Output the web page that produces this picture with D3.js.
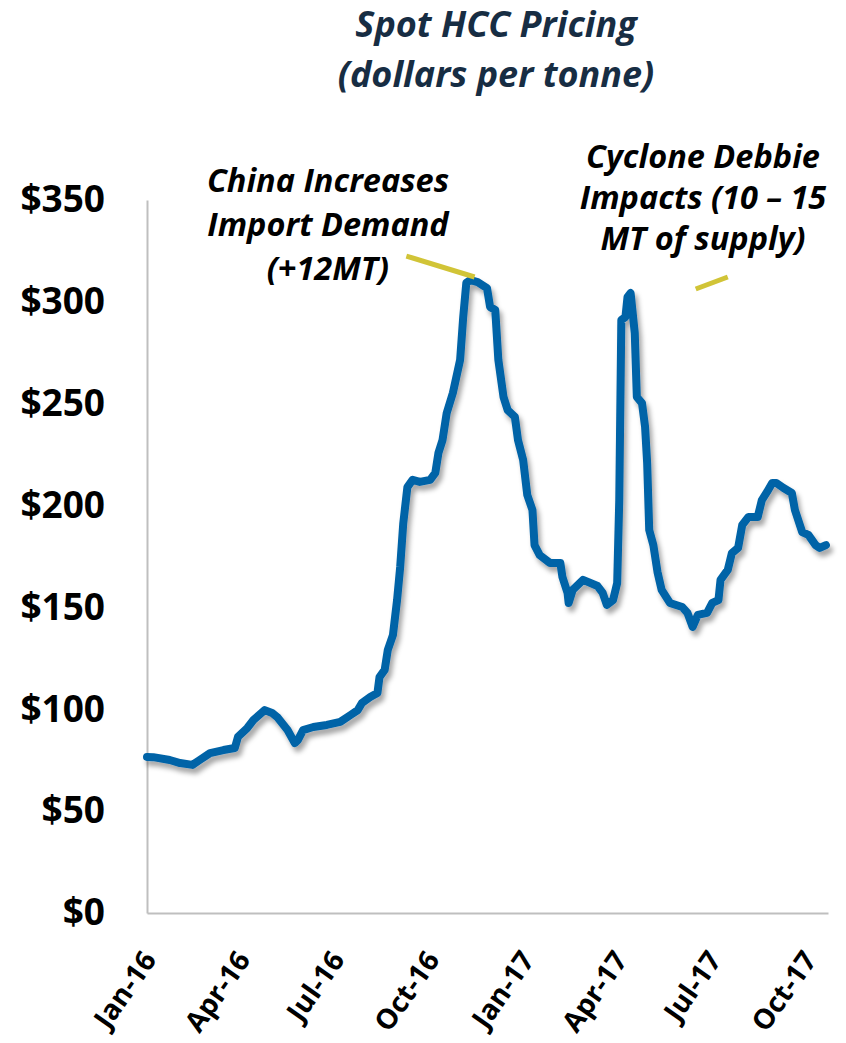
<!DOCTYPE html>
<html>
<head>
<meta charset="utf-8">
<script src="https://cdn.jsdelivr.net/npm/d3@7"></script>
<style>
  html, body { margin: 0; padding: 0; background: #ffffff; }
  svg { display: block; }
  text { font-family: "Open Sans", "Noto Sans", sans-serif; }
</style>
</head>
<body>
<script>
// Spot hard coking coal price, US$ per tonne
const priceDates = [
  "2016-01-01","2016-01-07","2016-01-23","2016-02-02","2016-02-14","2016-02-21","2016-03-02","2016-03-15",
  "2016-03-26","2016-03-29","2016-04-07","2016-04-13","2016-04-24","2016-05-01","2016-05-06","2016-05-16",
  "2016-05-23","2016-05-26","2016-05-31","2016-06-10","2016-06-23","2016-07-06","2016-07-16","2016-07-23",
  "2016-07-27","2016-08-04","2016-08-11","2016-08-13","2016-08-18","2016-08-21","2016-08-26","2016-08-30",
  "2016-09-02","2016-09-05","2016-09-09","2016-09-14","2016-09-21","2016-10-01","2016-10-06","2016-10-09",
  "2016-10-13","2016-10-17","2016-10-23","2016-10-30","2016-11-02","2016-11-05","2016-11-09","2016-11-16",
  "2016-11-25","2016-11-28","2016-12-03","2016-12-06","2016-12-11","2016-12-15","2016-12-22","2016-12-25",
  "2016-12-30","2017-01-03","2017-01-08","2017-01-10","2017-01-15","2017-01-25","2017-02-04","2017-02-06",
  "2017-02-11","2017-02-12","2017-02-16","2017-02-26","2017-03-12","2017-03-17","2017-03-21","2017-03-27",
  "2017-03-31","2017-04-02","2017-04-04","2017-04-08","2017-04-10","2017-04-13","2017-04-17","2017-04-19",
  "2017-04-24","2017-04-27","2017-04-29","2017-05-01","2017-05-05","2017-05-09","2017-05-13","2017-05-21",
  "2017-06-02","2017-06-07","2017-06-12","2017-06-17","2017-06-26","2017-07-01","2017-07-07","2017-07-09",
  "2017-07-16","2017-07-20","2017-07-26","2017-07-30","2017-08-05","2017-08-14","2017-08-18","2017-08-23",
  "2017-08-28","2017-09-01","2017-09-08","2017-09-16","2017-09-19","2017-09-26","2017-10-02","2017-10-09",
  "2017-10-13","2017-10-19"
];
const prices = [
  76.6, 76.5, 75.1, 73.6, 72.7, 75.1, 78.5, 80.0,
  81.0, 86.4, 90.8, 94.7, 99.6, 98.2, 96.2, 89.8,
  83.4, 84.9, 89.8, 91.3, 92.3, 93.8, 97.2, 99.6,
  103.1, 106.0, 108.0, 115.8, 119.3, 129.1, 136.5, 153.6,
  169.8, 191.4, 209.1, 212.6, 211.6, 212.6, 216.0, 225.8,
  232.2, 245.4, 255.3, 271.5, 292.6, 309.3, 310.7, 309.7,
  306.8, 297.5, 296.0, 271.5, 253.3, 246.9, 243.5, 232.2,
  222.4, 205.2, 197.8, 180.6, 175.7, 171.8, 171.8, 164.9,
  157.1, 152.2, 158.6, 163.5, 160.5, 157.1, 151.2, 153.6,
  162.0, 202.7, 291.1, 292.6, 302.4, 304.3, 284.7, 253.3,
  250.3, 238.6, 220.9, 188.0, 180.6, 167.4, 158.6, 152.2,
  150.2, 147.3, 140.4, 146.3, 147.3, 152.2, 153.6, 163.5,
  168.4, 176.7, 179.2, 190.5, 194.4, 194.4, 202.7, 206.7,
  211.1, 211.1, 208.6, 206.2, 197.8, 187.0, 185.6, 180.6,
  179.2, 180.6
];

// Axis ticks
const xTickDates = ["2016-01-01","2016-04-01","2016-07-01","2016-10-01","2017-01-01","2017-04-01","2017-07-01","2017-10-01"];
const xTickLabels = ["Jan-16","Apr-16","Jul-16","Oct-16","Jan-17","Apr-17","Jul-17","Oct-17"];
const yTickValues = [0, 50, 100, 150, 200, 250, 300, 350];

// Titles and callouts
const titleLines = ["Spot HCC Pricing", "(dollars per tonne)"];
const calloutChina = ["China Increases", "Import Demand", "(+12MT)"];
const calloutCyclone = ["Cyclone Debbie", "Impacts (10 \u2013 15", "MT of supply)"];
// leader lines: [start date, start value, end date, end value]
const leaderChina = ["2016-09-08", 322.5, "2016-11-13", 312.2];
const leaderCyclone = ["2017-06-15", 306.3, "2017-07-16", 312.2];

const W = 846, H = 1043;
const parse = d3.timeParse("%Y-%m-%d");
const series = priceDates.map((d, i) => ({ date: parse(d), value: prices[i] }));

const svg = d3.select("body").append("svg")
  .attr("width", W).attr("height", H)
  .attr("viewBox", `0 0 ${W} ${H}`);

const defs = svg.append("defs");
const shadow = defs.append("filter").attr("id", "lineShadow")
  .attr("x", "-10%").attr("y", "-10%").attr("width", "130%").attr("height", "130%");
shadow.append("feDropShadow")
  .attr("dx", 3).attr("dy", 5).attr("stdDeviation", 2.5)
  .attr("flood-color", "#000").attr("flood-opacity", 0.35);

const x = d3.scaleTime()
  .domain([parse("2016-01-01"), parse("2017-10-21")])
  .range([147, 828]);
const y = d3.scaleLinear().domain([0, 350]).range([913, 200]);

// Title
svg.append("g").selectAll("text").data(titleLines).join("text")
  .attr("x", 496).attr("y", (d, i) => 37 + i * 50)
  .attr("text-anchor", "middle")
  .attr("font-size", 36).attr("font-weight", 700).attr("font-style", "italic")
  .attr("fill", "#172d43")
  .text(d => d);

// Y axis
const yAxis = svg.append("g").attr("transform", "translate(147,0)")
  .call(d3.axisLeft(y).tickValues(yTickValues).tickFormat(d => "$" + d).tickSize(0).tickPadding(42));
yAxis.select(".domain").attr("stroke", "#bfbfbf").attr("stroke-width", 2);
yAxis.selectAll("text")
  .attr("font-family", "'Open Sans', sans-serif")
  .attr("font-size", 37).attr("font-weight", 700).attr("fill", "#000");

// X axis
const xAxis = svg.append("g").attr("transform", "translate(0,913)")
  .call(d3.axisBottom(x).tickValues(xTickDates.map(parse))
    .tickFormat((d, i) => xTickLabels[i]).tickSize(0));
xAxis.select(".domain").attr("stroke", "#bfbfbf").attr("stroke-width", 2);
xAxis.selectAll("text")
  .attr("font-family", "'Open Sans', sans-serif")
  .attr("font-size", 28).attr("font-weight", 700).attr("fill", "#000")
  .attr("text-anchor", "end")
  .attr("x", 0).attr("y", 0).attr("dy", 0)
  .attr("transform", "translate(10,47) rotate(-55)");

// Price line
const line = d3.line().x(d => x(d.date)).y(d => y(d.value));
svg.append("path").datum(series)
  .attr("d", line)
  .attr("fill", "none")
  .attr("stroke", "#0663a7")
  .attr("stroke-width", 8)
  .attr("stroke-linejoin", "round")
  .attr("stroke-linecap", "round")
  .attr("filter", "url(#lineShadow)");

// Callout leaders
[leaderChina, leaderCyclone].forEach(l => {
  svg.append("line")
    .attr("x1", x(parse(l[0]))).attr("y1", y(l[1]))
    .attr("x2", x(parse(l[2]))).attr("y2", y(l[3]))
    .attr("stroke", "#d1c437").attr("stroke-width", 5);
});

// Callout text
function callout(lines, cx, baselines) {
  svg.append("g").selectAll("text").data(lines).join("text")
    .attr("x", cx).attr("y", (d, i) => baselines[i])
    .attr("text-anchor", "middle")
    .attr("font-size", 32.5).attr("font-weight", 700).attr("font-style", "italic")
    .attr("fill", "#000")
    .text(d => d);
}
callout(calloutChina, 328, [192, 236, 280]);
callout(calloutCyclone, 703, [168, 209, 250]);
</script>
</body>
</html>
